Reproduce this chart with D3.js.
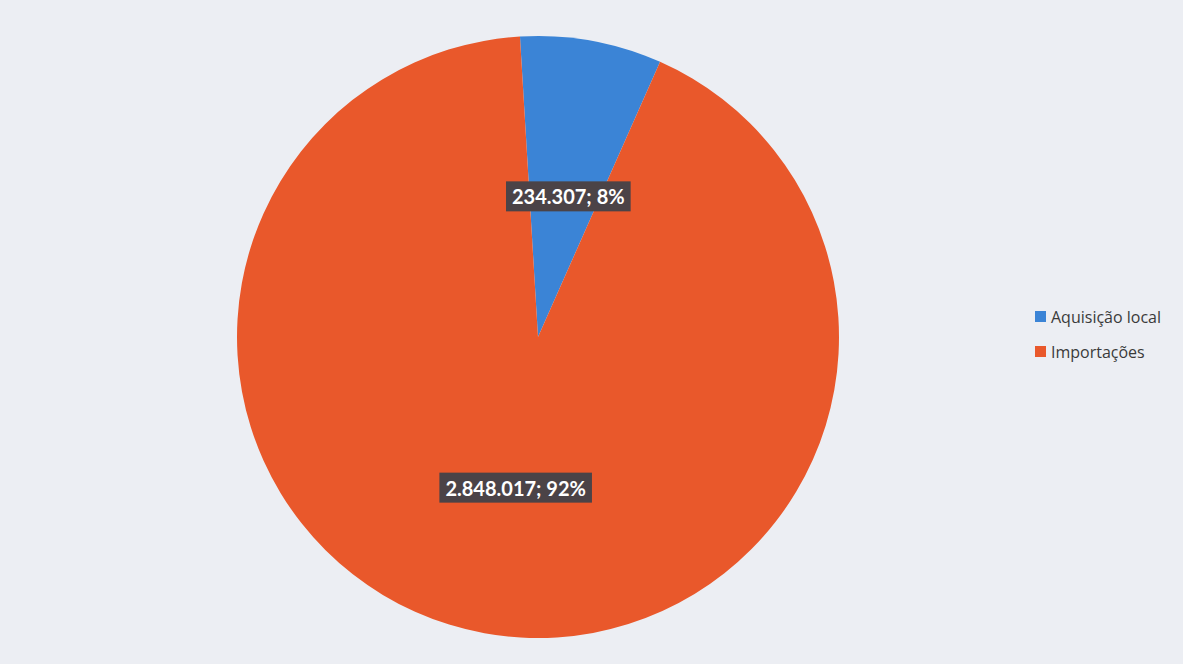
<!DOCTYPE html>
<html><head><meta charset="utf-8">
<script src="https://cdn.jsdelivr.net/npm/d3@7"></script>
<style>
html,body{margin:0;padding:0;background:#eceef3;}
svg{display:block;}
</style></head>
<body>
<svg id="chart" width="1183" height="664"></svg>
<script>
const categories = ["Aquisição local", "Importações"];
const values = [234307, 2848017];
const labels = ["234.307; 8%", "2.848.017; 92%"];
const colors = ["#3b84d6", "#e9582b"];

const svg = d3.select("#chart");
const W = 1183, H = 664;
svg.append("rect").attr("width", W).attr("height", H).attr("fill", "#eceef3");

const cx = 538, cy = 337, r = 301;
const startA = -0.06;
const pie = d3.pie().sort(null).value(d => d).startAngle(startA).endAngle(startA + 2*Math.PI);
const arcs = pie(values);
const arc = d3.arc().innerRadius(0).outerRadius(r);
const labelArc = d3.arc().innerRadius(148).outerRadius(148);

const g = svg.append("g").attr("transform", `translate(${cx},${cy})`);
g.selectAll("path.slice").data(arcs).enter().append("path")
  .attr("class","slice")
  .attr("d", arc)
  .attr("fill", (d,i) => colors[i]);

const lg = g.selectAll("g.lbl").data(arcs).enter().append("g")
  .attr("class","lbl")
  .attr("transform", d => { const c = labelArc.centroid(d); return `translate(${c[0]+4},${c[1]+6})`; });
lg.each(function(d,i){
  const gg = d3.select(this);
  const t = gg.append("text")
    .attr("text-anchor","middle")
    .attr("dy","0.35em")
    .attr("fill","#ffffff")
    .attr("font-family","Lato, 'Open Sans', sans-serif")
    .attr("font-weight","bold")
    .attr("font-size", 20)
    .text(labels[i]);
  const bb = t.node().getBBox();
  gg.insert("rect","text")
    .attr("x", bb.x - 6).attr("y", bb.y - 3)
    .attr("width", bb.width + 12).attr("height", bb.height + 6)
    .attr("fill", "#4b4347");
});

const leg = svg.append("g").attr("transform","translate(1035,311)");
const items = leg.selectAll("g").data(categories).enter().append("g")
  .attr("transform",(d,i)=>`translate(0,${i*35})`);
items.append("rect").attr("width",11).attr("height",11).attr("fill",(d,i)=>colors[i]);
items.append("text").attr("x",16).attr("y",6).attr("dy","0.35em")
  .attr("font-family","'Open Sans', Lato, sans-serif").attr("font-size",16)
  .attr("fill","#3a3a3a").text(d=>d);
</script>
</body></html>
